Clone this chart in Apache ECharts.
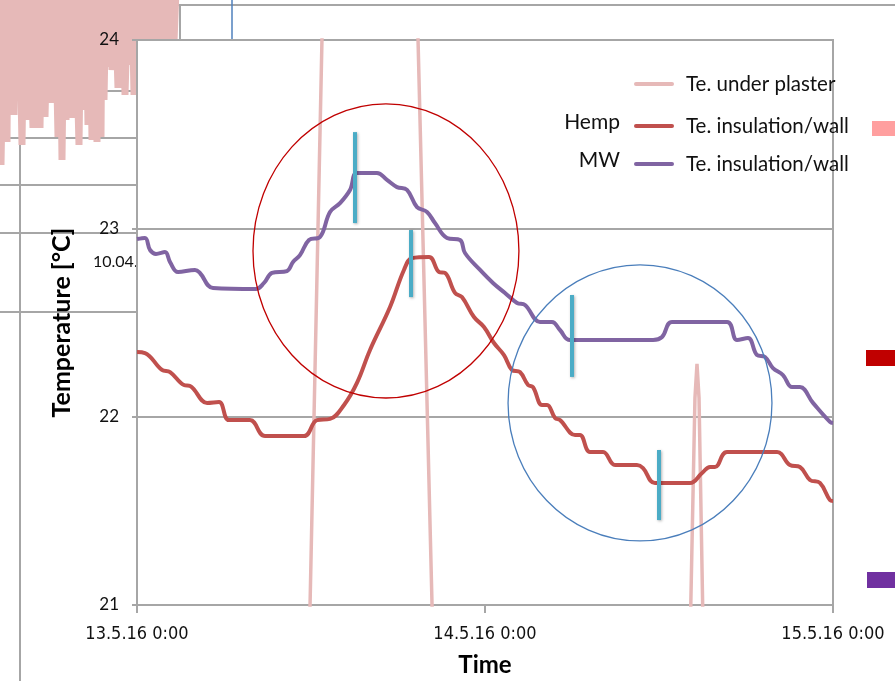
<!DOCTYPE html>
<html>
<head>
<meta charset="utf-8">
<script src="https://cdn.jsdelivr.net/npm/echarts@6/dist/echarts.min.js"></script>
<style>
  html, body { margin: 0; padding: 0; background: #fff; }
  #main { width: 895px; height: 681px; }
</style>
</head>
<body>
<div id="main"></div>
<script>
// x in hours from 13.5.16 0:00
const timeLabels = ['13.5.16 0:00', '14.5.16 0:00', '15.5.16 0:00'];
const yTicks = [21, 22, 23, 24];

const mwHours = [0, 0.55, 0.9, 1.31, 1.93, 2.28, 2.83, 4.0, 4.34, 5.24, 8.21, 8.76, 9.31, 10.34, 10.76, 11.24, 11.86, 12.62,
  13.31, 14.0, 14.69, 15.17, 16.55, 17.24, 17.93, 18.62, 19.31, 20.0, 20.55, 21.38, 22.28, 22.62, 23.66, 24.55, 25.38,
  26.21, 26.76, 27.79, 28.62, 29.17, 29.86, 35.59, 36.21, 36.9, 40.69, 41.38, 42.14, 42.76, 43.31, 43.86, 44.55,
  45.17, 45.72, 46.62, 47.79, 48];
const mwTemp = [22.943, 22.949, 22.885, 22.864, 22.874, 22.821, 22.768, 22.779, 22.763, 22.683, 22.678, 22.71, 22.763,
  22.773, 22.821, 22.858, 22.938, 22.954, 23.087, 23.134, 23.204, 23.294, 23.294, 23.257, 23.219, 23.204, 23.113, 23.087,
  23.028, 22.949, 22.938, 22.869, 22.779, 22.71, 22.657, 22.604, 22.593, 22.503, 22.503, 22.46, 22.407, 22.407, 22.423,
  22.503, 22.503, 22.407, 22.418, 22.327, 22.317, 22.258, 22.221, 22.157, 22.157, 22.073, 21.972, 21.966];

const hempHours = [0, 0.55, 1.72, 2.28, 3.24, 3.66, 4.83, 5.66, 6.34, 7.79, 8.83, 11.52, 12.41, 13.31, 14.28, 15.17,
  16.07, 17.45, 18.41, 18.97, 20.14, 20.83, 21.24, 21.93, 22.41, 23.24, 23.93, 24.62, 25.31, 25.86, 26.41, 26.97, 27.31,
  27.93, 28.28, 28.83, 29.17, 30.21, 30.55, 31.24, 32.14, 32.97, 34.48, 34.9, 35.72, 38.14, 38.97, 39.52, 39.86, 40.69,
  44.14, 45.03, 45.72, 46.41, 47.1, 47.79, 48];
const hempTemp = [22.343, 22.338, 22.248, 22.237, 22.168, 22.163, 22.073, 22.078, 21.982, 21.982, 21.897, 21.897, 21.982,
  21.988, 22.062, 22.179, 22.354, 22.582, 22.779, 22.842, 22.848, 22.768, 22.763, 22.657, 22.635, 22.529, 22.476, 22.391,
  22.327, 22.248, 22.237, 22.168, 22.157, 22.062, 22.062, 21.993, 21.982, 21.903, 21.903, 21.812, 21.812, 21.743, 21.743,
  21.727, 21.648, 21.648, 21.701, 21.733, 21.733, 21.812, 21.812, 21.743, 21.733, 21.664, 21.648, 21.557, 21.552];

// under plaster: mostly outside 21..24, only its crossings show
const plasterHours = [0, 6, 11.66, 13.03, 16, 19.06, 20.67, 28, 37.93, 38.48, 38.62, 38.76, 39.24, 48];
const plasterTemp = [18.5, 19.5, 20.0, 25.0, 27.0, 25.0, 20.0, 18.5, 20.0, 22.1, 22.28, 22.1, 20.0, 18.8];

// cyan marker bars
const markerHours = [15.03, 18.9, 30.0, 36.0];
const markerLow = [23.028, 22.635, 22.211, 21.451];
const markerHigh = [23.511, 22.991, 22.646, 21.823];

// highlight ellipses: centre hour, centre temp, half width (h), half height (K)
const ellipseHours = [17.17, 34.69];
const ellipseTemp = [22.88, 22.073];
const ellipseHalfW = [9.17, 9.1];
const ellipseHalfH = [0.781, 0.733];
const ellipseColors = ['#c00000', '#4a7ebb'];

// chart behind, top left corner (arbitrary units)
const bgNoiseX = [0, 1, 4, 7, 8, 10, 12, 14, 15, 17, 19, 22, 24, 26, 29, 33, 34, 36, 38, 40, 42, 45, 48, 52, 55, 58, 60,
  62, 64, 66, 69, 72, 75, 79, 81, 84, 86, 88, 90, 92, 94, 97, 99, 101, 102, 104, 106, 108, 110, 112, 115, 118, 120, 122,
  123, 125, 128, 130, 132, 134, 136, 138, 140, 142, 144, 146, 148, 150, 152, 154, 156, 158, 160, 162, 164, 166, 168, 170,
  172, 174, 176];
const bgNoiseY = [18, 0.5, 18, 2.8, 18, 7.5, 18, 5.5, 18, 7.0, 18, 2.5, 18, 5.0, 18, 4.2, 18, 6.0, 18, 4.2, 18, 5.3, 18,
  6.7, 18, 3.3, 18, 1.0, 18, 5.0, 18, 5.2, 18, 2.5, 18, 6.0, 18, 4.5, 18, 3.0, 18, 2.8, 18, 3.3, 18, 7.0, 18, 10.3, 18,
  10.0, 18, 8.2, 18, 9.7, 18, 7.5, 18, 10.5, 18, 7.5, 18, 12.2, 18, 12.6, 18, 11.8, 18, 12.5, 18, 12.1, 18, 12.7, 18,
  11.9, 18, 12.4, 18, 12.0, 18, 12.8, 18];

const zip = (xs, ys) => xs.map((x, i) => [x, ys[i]]);

const gridGray = '#a6a6a6';
const labelFont = 'Lato, "Noto Sans", sans-serif';

const chart = echarts.init(document.getElementById('main'));

const backdrop = [
  { type: 'line', shape: { x1: 20, y1: 5, x2: 895, y2: 5 } },
  { type: 'line', shape: { x1: 20, y1: 5, x2: 20, y2: 681 } },
  { type: 'line', shape: { x1: 180, y1: 5, x2: 180, y2: 40 } },
  { type: 'line', shape: { x1: 0, y1: 44, x2: 137, y2: 44 } },
  { type: 'line', shape: { x1: 0, y1: 91, x2: 137, y2: 91 } },
  { type: 'line', shape: { x1: 0, y1: 138, x2: 137, y2: 138 } },
  { type: 'line', shape: { x1: 0, y1: 185, x2: 137, y2: 185 } },
  { type: 'line', shape: { x1: 0, y1: 233, x2: 137, y2: 233 } },
  { type: 'line', shape: { x1: 0, y1: 312, x2: 137, y2: 312 } }
].map(g => Object.assign(g, { z: 0, silent: true, style: { stroke: gridGray, lineWidth: 2 } }));
backdrop.push({ type: 'line', z: 0, silent: true, shape: { x1: 232, y1: 0, x2: 232, y2: 40 },
  style: { stroke: '#4f81bd', lineWidth: 1.5 } });
backdrop.push({ type: 'text', z: 0, silent: true, left: 93, top: 254,
  style: { text: '10.04.', fill: '#111', font: '16px ' + labelFont } });

const legendItems = [
  { prefix: '', color: '#e6b9b8', text: 'Te. under plaster', y: 84 },
  { prefix: 'Hemp', color: '#c0504d', text: 'Te. insulation/wall', y: 126 },
  { prefix: 'MW', color: '#8064a2', text: 'Te. insulation/wall', y: 164 }
];
const legendGraphics = [];
legendItems.forEach(it => {
  legendGraphics.push({ type: 'line', z: 20, silent: true, shape: { x1: 636, y1: it.y, x2: 672, y2: it.y },
    style: { stroke: it.color, lineWidth: 4, lineCap: 'round' } });
  legendGraphics.push({ type: 'text', z: 20, silent: true, x: 686, y: it.y,
    style: { text: it.text, fill: '#111', font: '20.5px ' + labelFont, textVerticalAlign: 'middle' } });
  if (it.prefix) {
    legendGraphics.push({ type: 'text', z: 20, silent: true, x: 620, y: it.y - 4,
      style: { text: it.prefix, fill: '#111', font: '21px ' + labelFont, textAlign: 'right', textVerticalAlign: 'middle' } });
  }
});

const swatches = [
  { type: 'rect', shape: { x: 872, y: 121, width: 23, height: 15 }, style: { fill: '#ff9f9f' } },
  { type: 'rect', shape: { x: 866, y: 350, width: 29, height: 16 }, style: { fill: '#c00000' } },
  { type: 'rect', shape: { x: 867, y: 572, width: 28, height: 16 }, style: { fill: '#7030a0' } }
].map(g => Object.assign(g, { z: 20, silent: true }));

chart.setOption({
  animation: false,
  backgroundColor: '#fff',
  grid: [
    { left: 0, top: 0, width: 178, height: 170, show: false, outerBoundsMode: 'none', containLabel: false },
    { left: 137, top: 40, right: 62, bottom: 76, show: true, backgroundColor: '#fff',
      borderColor: gridGray, borderWidth: 2, z: 3, outerBoundsMode: 'none', containLabel: false }
  ],
  xAxis: [
    { gridIndex: 0, type: 'value', min: 0, max: 178, show: false },
    {
      gridIndex: 1, type: 'value', min: 0, max: 48, interval: 24, z: 4,
      name: 'Time', nameLocation: 'middle', nameGap: 48,
      nameTextStyle: { fontFamily: labelFont, fontWeight: 'bold', fontSize: 24, color: '#000' },
      axisLine: { lineStyle: { color: gridGray, width: 2 } },
      axisTick: { show: true, length: 8, lineStyle: { color: gridGray, width: 2 } },
      splitLine: { show: false },
      axisLabel: {
        margin: 20, color: '#111', fontSize: 18,
        fontFamily: '"Liberation Sans Narrow", "DejaVu Sans Condensed", sans-serif',
        showMinLabel: true, showMaxLabel: true, hideOverlap: false,
        formatter: v => timeLabels[Math.round(v / 24)]
      }
    }
  ],
  yAxis: [
    { gridIndex: 0, type: 'value', min: 0, max: 17, show: false },
    {
      gridIndex: 1, type: 'value', min: yTicks[0], max: yTicks[yTicks.length - 1], interval: 1, z: 4,
      name: 'Temperature [°C]', nameLocation: 'middle', nameGap: 63,
      nameTextStyle: { fontFamily: labelFont, fontWeight: 'bold', fontSize: 25, color: '#000' },
      axisLine: { show: true, lineStyle: { color: gridGray, width: 2 } },
      axisTick: { show: true, length: 5, lineStyle: { color: gridGray, width: 2 } },
      splitLine: { show: true, lineStyle: { color: gridGray, width: 2 } },
      axisLabel: { margin: 18, color: '#111', fontSize: 17, fontFamily: labelFont }
    }
  ],
  series: [
    {
      name: 'backdrop', type: 'line', xAxisIndex: 0, yAxisIndex: 0, z: 1,
      data: zip(bgNoiseX, bgNoiseY), showSymbol: false, silent: true,
      lineStyle: { color: '#e6b9b8', width: 7 }
    },
    {
      name: 'Te. under plaster', type: 'line', xAxisIndex: 1, yAxisIndex: 1, z: 5,
      data: zip(plasterHours, plasterTemp), showSymbol: false, silent: true,
      lineStyle: { color: '#e6b9b8', width: 3.5 }
    },
    {
      name: 'Hemp Te. insulation/wall', type: 'line', xAxisIndex: 1, yAxisIndex: 1, z: 6,
      data: zip(hempHours, hempTemp), showSymbol: false, silent: true, smooth: 0.4,
      lineStyle: { color: '#c0504d', width: 4 }
    },
    {
      name: 'MW Te. insulation/wall', type: 'line', xAxisIndex: 1, yAxisIndex: 1, z: 7,
      data: zip(mwHours, mwTemp), showSymbol: false, silent: true, smooth: 0.4,
      lineStyle: { color: '#8064a2', width: 4 },
      markLine: {
        silent: true, symbol: ['none', 'none'], z: 10, animation: false,
        label: { show: false },
        lineStyle: { color: '#4bacc6', width: 4, type: 'solid',
          shadowColor: 'rgba(0,0,0,0.3)', shadowBlur: 3, shadowOffsetX: 1, shadowOffsetY: 1 },
        data: markerHours.map((h, i) => [{ coord: [h, markerLow[i]] }, { coord: [h, markerHigh[i]] }])
      }
    }
  ],
  graphic: []
});

// ellipses placed from data space
const ellipses = ellipseHours.map((h, i) => {
  const c = chart.convertToPixel({ gridIndex: 1 }, [h, ellipseTemp[i]]);
  const e = chart.convertToPixel({ gridIndex: 1 }, [h + ellipseHalfW[i], ellipseTemp[i] + ellipseHalfH[i]]);
  return {
    type: 'ellipse', z: 15, silent: true,
    shape: { cx: c[0], cy: c[1], rx: Math.abs(e[0] - c[0]), ry: Math.abs(c[1] - e[1]) },
    style: { fill: null, stroke: ellipseColors[i], lineWidth: 1.3 }
  };
});

chart.setOption({ graphic: backdrop.concat(legendGraphics, swatches, ellipses) });
</script>
</body>
</html>
